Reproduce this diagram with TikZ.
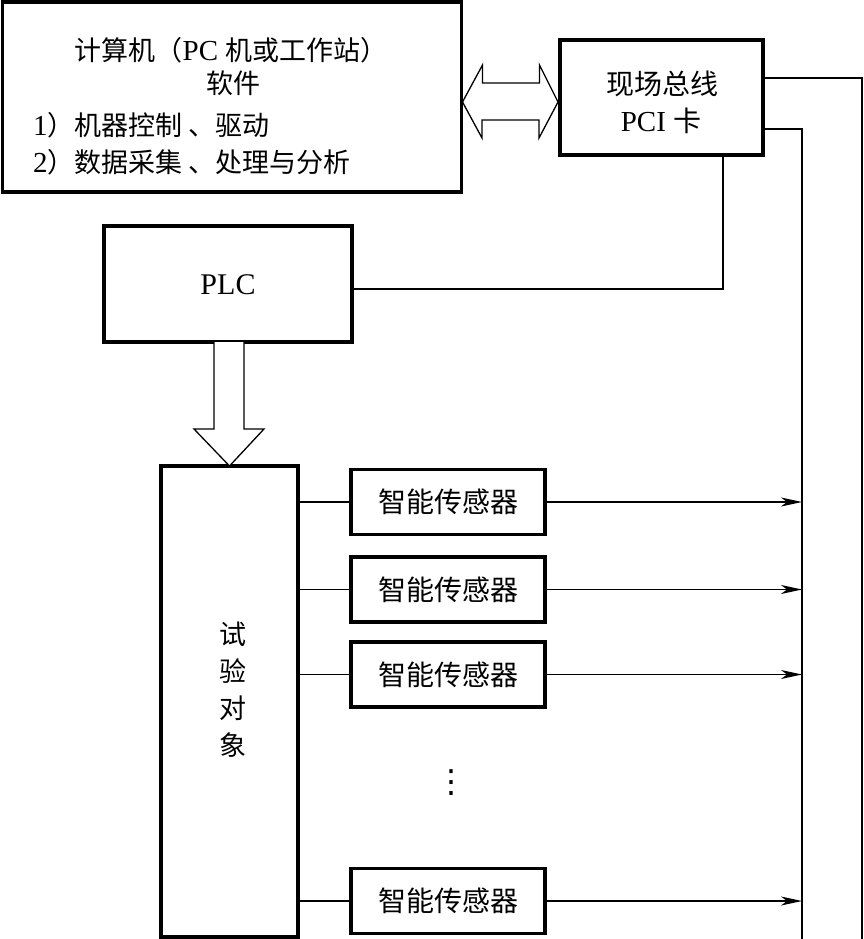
\documentclass[tikz,border=0pt]{standalone}
\usepackage{fontspec}
\setmainfont{Liberation Serif}
\newfontfamily\cjk{Noto Sans CJK SC}
\newfontfamily\dejavu{DejaVu Sans}
\usetikzlibrary{arrows.meta,calc}
\begin{document}
\begin{tikzpicture}[x=1pt,y=-1pt,
  box/.style={draw,line width=3.2pt,rectangle,inner sep=0pt,outer sep=0pt},
  wire/.style={line width=1.3pt},
  hollow/.style={line width=1.3pt,fill=white,line join=miter},
  sens/.style={box,minimum width=194pt,minimum height=65pt,font=\fontsize{28}{30}\cjk},
  arr/.style={wire,-{Stealth[length=21pt,width=9pt,inset=6pt]}},
  txt/.style={inner sep=0pt,outer sep=0pt}]
\useasboundingbox (0,0) rectangle (863,939);
% boxes
\node[box,minimum width=459pt,minimum height=190pt] (comp) at (232,97) {};
\node[box,minimum width=203pt,minimum height=115pt] (pci) at (661.5,97.5) {};
\node[box,minimum width=248pt,minimum height=116pt] (plc) at (228,284) {};
\node[box,minimum width=137pt,minimum height=471pt] (test) at (229.5,701.5) {};
\node[sens] (s1) at (448,502) {智能传感器};
\node[sens] (s2) at (448,589.5) {智能传感器};
\node[sens] (s3) at (448,674.5) {智能传感器};
\node[sens] (s5) at (448,901) {智能传感器};
% texts
\node[txt,font=\fontsize{29}{30}\selectfont] (t1) at (231,50) {{\cjk\fontsize{27}{30}\selectfont 计算机（}PC {\cjk\fontsize{27}{30}\selectfont 机或工作站）}};
\node[txt,font=\fontsize{27}{30}\cjk] (t2) at (233,83) {软件};
\node[txt,anchor=west,font=\fontsize{29}{30}\selectfont] (t3) at (33,125) {1{\cjk\fontsize{27}{30}\selectfont ）机器控制 、驱动}};
\node[txt,anchor=west,font=\fontsize{29}{30}\selectfont] (t4) at (33,162) {2{\cjk\fontsize{27}{30}\selectfont ）数据采集 、处理与分析}};
\node[txt,font=\fontsize{28}{30}\cjk] (p1) at (662,84) {现场总线};
\node[txt,font=\fontsize{29}{30}\selectfont] (p2) at (661,121) {PCI {\cjk\fontsize{28}{30}\selectfont 卡}};
\node[txt,font=\fontsize{30}{30}\selectfont] (plctxt) at (228,285) {PLC};
\node[txt,align=center,font=\fontsize{27}{37}\cjk] (ttxt) at (233,690) {试\\验\\对\\象};
\node[txt,font=\fontsize{32}{32}\dejavu] (dots) at (451,783) {⋮};
% double arrow between computer and PCI card
\coordinate (dl) at ([xshift=1pt,yshift=-5pt]comp.east);
\coordinate (dr) at ([xshift=-2pt,yshift=-4.5pt]pci.west);
\draw[hollow] (dl) -- ++(20,-37) -- ++(0,18) -- ++(57,0) -- ++(0,-18) -- (dr)
  -- ++(-19,36) -- ++(0,-18) -- ++(-57,0) -- ++(0,18) -- cycle;
% hollow down arrow PLC -> test object
\draw[hollow] ([xshift=-14pt]plc.south) -- ++(0,87) -- ++(-20,0) -- (test.north)
  -- ++(34.5,-37) -- ++(-20,0) -- ++(0,-87);
% PLC to PCI
\draw[wire] ([yshift=-5pt]plc.east) -| ([xshift=61.5pt]pci.south);
% buses
\coordinate (busA) at (802,939);
\coordinate (busB) at (862,939);
\draw[wire] ([yshift=19.5pt]pci.east) -| (busB);
\draw[wire] ([yshift=-31.5pt]pci.east) -| (busA);
% sensor connections
\foreach \s in {s1,s2,s3,s5}{
  \draw[wire] (\s.west -| test.east) -- (\s.west);
  \draw[arr] (\s.east) -- (\s.east -| busA);
}
\end{tikzpicture}
\end{document}
